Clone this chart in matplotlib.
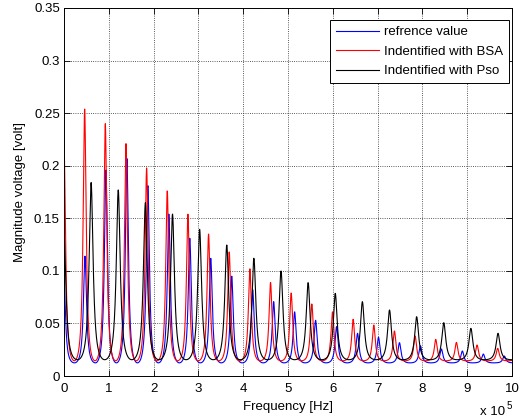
import numpy as np
import matplotlib
matplotlib.use("Agg")
import matplotlib.pyplot as plt

# ---- data (frequency in units of 1e5 Hz) ----
ref_f0 = 0.468
ref_min = 0.0125
ref_peaks = [0.090, 0.114, 0.196, 0.207, 0.181, 0.154, 0.131, 0.112, 0.095, 0.082,
             0.0707, 0.061, 0.053, 0.047, 0.0406, 0.0368, 0.0317, 0.0288, 0.0257,
             0.0238, 0.0209, 0.019, 0.018]

bsa_f0 = 0.461
bsa_min = 0.0145
bsa_peaks = [0.222, 0.254, 0.240, 0.221, 0.198, 0.176, 0.154, 0.135, 0.118, 0.102,
             0.089, 0.079, 0.0685, 0.061, 0.054, 0.0485, 0.0428, 0.038, 0.0348,
             0.032, 0.0295, 0.0263, 0.025]

pso_f0 = 0.6055
pso_min = 0.0155
pso_peaks = [0.135, 0.184, 0.177, 0.165, 0.154, 0.1395, 0.1246, 0.112, 0.0999,
             0.0888, 0.0786, 0.0707, 0.0628, 0.0564, 0.0507, 0.0453, 0.0406, 0.038]

labels = ["refrence value", "Indentified with BSA", "Indentified with Pso"]
colors = ["#0000ff", "#ff0000", "#000000"]

freq = np.linspace(0, 10, 4001)


def response(f, f0, peaks, vmin, w=0.28):
    n = np.clip(np.round(f / f0).astype(int), 0, len(peaks) - 1)
    P = np.asarray(peaks)[n]
    u = np.sin(np.pi * (f - n * f0) / f0)
    h = 1.0 / (1.0 + (u / w) ** 2)
    h1 = 1.0 / (1.0 + (1.0 / w) ** 2)
    g = (h - h1) / (1.0 - h1)
    return vmin + (P - vmin) * g


plt.rcParams['font.family'] = ['Liberation Sans', 'DejaVu Sans']
fig = plt.figure(figsize=(5.2, 4.19), dpi=100)
ax = fig.add_axes([64 / 520, 43 / 419, 448 / 520, 368 / 419])

series = [(ref_f0, ref_peaks, ref_min), (bsa_f0, bsa_peaks, bsa_min), (pso_f0, pso_peaks, pso_min)]
for (f0, pk, mn), lab, col in zip(series, labels, colors):
    ax.plot(freq, response(freq, f0, pk, mn), color=col, lw=0.8, label=lab)

ax.set_xlim(0, 10)
ax.set_ylim(0, 0.35)
ax.set_xticks(np.arange(0, 11, 1))
ax.set_xticklabels([str(i) for i in range(11)])
yt = np.arange(0, 0.351, 0.05)
ax.set_yticks(yt)
ax.set_yticklabels(["0", "0.05", "0.1", "0.15", "0.2", "0.25", "0.3", "0.35"])
ax.tick_params(direction='in', top=True, right=True, length=4, width=0.6,
               labelsize=9.5, colors='k')
ax.tick_params(axis='x', pad=5)
ax.tick_params(axis='y', pad=3)
ax.grid(True, color='k', linestyle=':', linewidth=0.6, alpha=0.85)
for s in ax.spines.values():
    s.set_linewidth(0.7)

ax.set_xlabel("Frequency [Hz]", fontsize=9.5, labelpad=4)
ax.set_ylabel("Magnitude voltage [volt]", fontsize=9.5, labelpad=6)

fig.text(480 / 520, 1 - 412 / 419, "x 10", fontsize=9.5, va='center', ha='left')
fig.text(507 / 520, 1 - 406 / 419, "5", fontsize=7, va='center', ha='left')

leg = ax.legend(loc='upper right', bbox_to_anchor=(1 - 3 / 448, 1 - 12 / 368),
                fontsize=9.5, handlelength=3.3, handletextpad=0.35, labelspacing=0.55,
                borderpad=0.45, borderaxespad=0, fancybox=False, framealpha=1,
                edgecolor='k')
leg.get_frame().set_linewidth(0.7)

fig.savefig("out.png", dpi=100)
